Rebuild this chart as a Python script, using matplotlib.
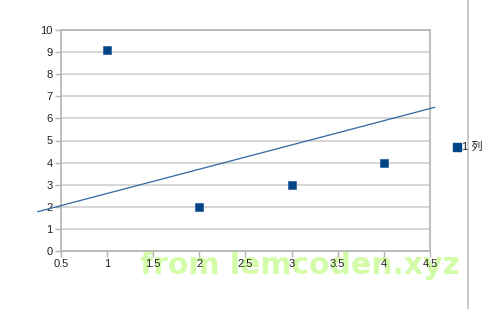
import matplotlib
matplotlib.use("Agg")
import matplotlib.pyplot as plt
from matplotlib.lines import Line2D

# Data
x_values = [1, 2, 3, 4]
y_values = [9.1, 2, 3, 4]
trend_x = [0.25, 4.55]
trend_y = [1.78, 6.5]
x_ticks = [0.5, 1, 1.5, 2, 2.5, 3, 3.5, 4, 4.5]
x_tick_labels = ["0.5", "1", "1.5", "2", "2.5", "3", "3.5", "4", "4.5"]
y_ticks = list(range(0, 11))
series_label = "1 列"

plt.rcParams['font.family'] = ['Liberation Sans', 'Noto Sans CJK SC', 'DejaVu Sans']

fig = plt.figure(figsize=(4.85, 3.09), dpi=100)
ax = fig.add_axes([61/485, 1-251/309, (430-61)/485, (251-30)/309])
ax.set_zorder(2)
ax.patch.set_alpha(0)

ax.set_xlim(0.5, 4.5)
ax.set_ylim(0, 10)
ax.set_xticks(x_ticks)
ax.set_xticklabels(x_tick_labels)
ax.set_yticks(y_ticks)

ax.grid(axis='y', color='#d0d0d0', linewidth=1.2)
ax.set_axisbelow(True)
for s in ax.spines.values():
    s.set_color('#b3b3b3')
    s.set_linewidth(1.2)
ax.tick_params(axis='both', colors='#b3b3b3', labelcolor='#222222',
               labelsize=8, length=4, width=1.0, direction='out', pad=2)

# watermark (behind tick labels)
fig.text(0.619, 0.14, "from lemcoden.xyz", color='#d2fca8', fontsize=21.5,
         fontweight='bold', family='DejaVu Sans', ha='center', va='center', zorder=0)

ax.plot(trend_x, trend_y, color='#3465a4', linewidth=0.9, clip_on=False, zorder=3)
ax.scatter(x_values, y_values, marker='s', s=38, color='#004586', zorder=4,
           edgecolors='#2a5c94', linewidths=0.5)

# right vertical divider line
fig.add_artist(Line2D([468/485, 468/485], [0, 1], color='#c0c0c0', linewidth=1.2,
                      zorder=10))

# legend
fig.add_artist(Line2D([457.5/485], [1-147/309], marker='s', markersize=5.5,
                      color='#004586', linestyle='none', zorder=10))
fig.text(462/485, 1-147/309, series_label, fontsize=8, color='#222222',
         ha='left', va='center', zorder=11)

fig.savefig("out.png", dpi=100)
